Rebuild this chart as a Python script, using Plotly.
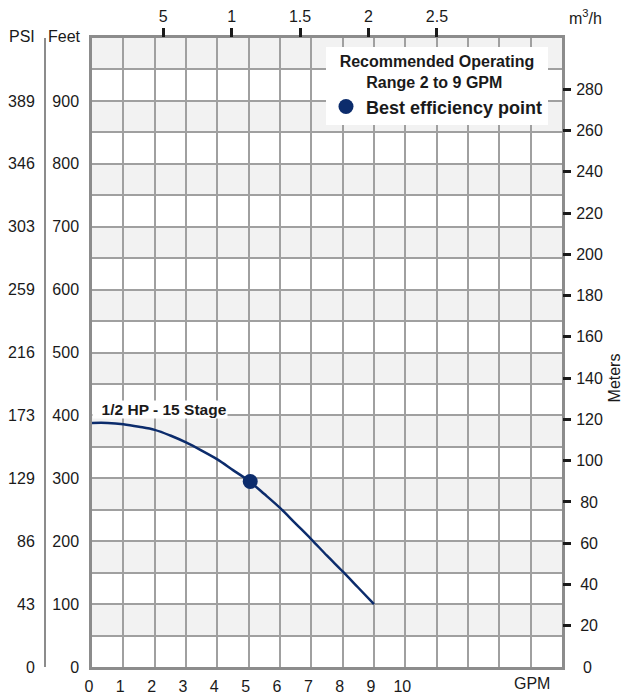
import plotly.graph_objects as go

# pump curve (GPM vs feet of head)
gpm = [0, 0.5, 1, 1.5, 2, 2.5, 3, 3.5, 4, 4.5, 5, 5.5, 6, 6.5, 7, 7.5, 8, 8.5, 9]
feet = [388, 388, 386, 382, 377, 368, 357, 344, 330, 313, 296, 275, 253, 228, 203, 177, 152, 126, 100]
bep_gpm = [5.05]
bep_feet = [295]

feet_ticks = [0, 100, 200, 300, 400, 500, 600, 700, 800, 900]
psi_labels = ['0', '43', '86', '129', '173', '216', '259', '303', '346', '389']
meter_ticks_3 = [100, 120, 140, 160, 180, 200, 220, 240, 260, 280]
meter_ticks_2 = [20, 40, 60, 80]
gpm_ticks = [0, 1, 2, 3, 4, 5, 6, 7, 8, 9, 10]
m3h_ticks = [0.5, 1, 1.5, 2, 2.5]
m3h_labels = ['5', '1', '1.5', '2', '2.5']

NAVY = '#0c2c6c'
GRID = '#a0a0a0'
BORDER = '#8c8c8c'
TXT = '#1a1a1a'
FONT = 'Liberation Sans'
FT_MAX = 1000
M_MAX = FT_MAX * 0.3048

fig = go.Figure()
fig.add_trace(go.Scatter(x=gpm, y=feet, mode='lines', line=dict(color=NAVY, width=2.5, shape='spline'),
                         showlegend=False, hoverinfo='skip'))
fig.add_trace(go.Scatter(x=bep_gpm, y=bep_feet, mode='markers', name='Best efficiency point',
                         marker=dict(color=NAVY, size=15)))

# alternating grey bands every 50 ft
shapes = []
for lo in range(50, FT_MAX, 100):
    shapes.append(dict(type='rect', xref='x', yref='y', x0=0, x1=15, y0=lo, y1=lo + 50,
                       fillcolor='#f2f2f2', line=dict(width=0), layer='below'))

tickfont = dict(family=FONT, size=16, color=TXT)
pad = '&nbsp;' * 6

fig.update_layout(
    width=623, height=696,
    margin=dict(l=45, r=61, t=38, b=29),
    paper_bgcolor='white', plot_bgcolor='white',
    font=dict(family=FONT, color=TXT),
    shapes=shapes,
    showlegend=True,
    legend=dict(x=0.9729, xanchor='right', y=0.9862, yanchor='top', bgcolor='white', borderwidth=0,
                title=dict(text='Recommended Operating<br>' + pad + 'Range 2 to 9 GPM', side='top center',
                           font=dict(family=FONT, size=16, weight=700, color=TXT)),
                font=dict(family=FONT, size=18, weight=700, color=TXT)),
    xaxis=dict(domain=[0.0909, 1], range=[0, 15], tickvals=gpm_ticks, ticks='', showgrid=True,
               gridcolor=GRID, gridwidth=1.5, minor=dict(dtick=1, showgrid=True, gridcolor=GRID, gridwidth=1.5),
               showline=True, mirror=True, linecolor=BORDER, linewidth=2.5, zeroline=False,
               tickfont=tickfont, ticklabelshift=-3, ticklabelstandoff=3, automargin=False),
    xaxis2=dict(overlaying='x', side='top', anchor='y', range=[-0.0195, 3.413], tickvals=m3h_ticks,
                ticktext=m3h_labels, ticks='outside', ticklen=9, tickwidth=2.5, tickcolor=TXT,
                showgrid=False, showline=False, zeroline=False, tickfont=tickfont, automargin=False),
    yaxis=dict(range=[0, FT_MAX], tickvals=feet_ticks, ticks='', showgrid=True, gridcolor=GRID,
               gridwidth=1.5, minor=dict(dtick=50, showgrid=True, gridcolor=GRID, gridwidth=1.5),
               showline=True, mirror=True, linecolor=BORDER, linewidth=2.5, zeroline=False,
               tickfont=tickfont, ticklabelstandoff=7, automargin=False),
    yaxis3=dict(overlaying='y', anchor='free', position=0, side='left', range=[0, FT_MAX],
                tickvals=feet_ticks, ticktext=psi_labels, ticks='', showgrid=False, zeroline=False,
                showline=True, linecolor=BORDER, linewidth=2, tickfont=tickfont,
                ticklabelstandoff=6, automargin=False),
    yaxis2=dict(overlaying='y', side='right', anchor='x', range=[0, M_MAX], tickvals=meter_ticks_3,
                ticks='outside', ticklen=8, tickwidth=2.5, tickcolor=TXT, showgrid=False,
                zeroline=False, showline=False, tickfont=tickfont, ticklabelstandoff=2, automargin=False),
    yaxis4=dict(overlaying='y', side='right', anchor='x', range=[0, M_MAX], tickvals=meter_ticks_2,
                ticks='outside', ticklen=8, tickwidth=2.5, tickcolor=TXT, showgrid=False,
                zeroline=False, showline=False, tickfont=tickfont, ticklabelstandoff=6, automargin=False),
    yaxis5=dict(overlaying='y', side='right', anchor='x', range=[0, M_MAX], tickvals=[0],
                ticks='', showgrid=False, zeroline=False, showline=False, tickfont=tickfont,
                ticklabelstandoff=20, automargin=False),
)

# empty traces so the extra axes get drawn
fig.add_trace(go.Scatter(x=[None], y=[None], yaxis='y3', showlegend=False))
fig.add_trace(go.Scatter(x=[None], y=[None], yaxis='y2', showlegend=False))
fig.add_trace(go.Scatter(x=[None], y=[None], yaxis='y4', showlegend=False))
fig.add_trace(go.Scatter(x=[None], y=[None], yaxis='y5', showlegend=False))
fig.add_trace(go.Scatter(x=[None], y=[None], xaxis='x2', showlegend=False))

annots = [
    dict(text='PSI', x=-0.0445, y=1.0016, xanchor='center'),
    dict(text='Feet', x=0.0735, y=1.0016, xanchor='right'),
    dict(text='m<sup>3</sup>/h', x=1.0445, y=1.0334, xanchor='center'),
    dict(text='GPM', x=0.9414, y=-0.0259, xanchor='center'),
    dict(text='Meters', x=1.1015, y=0.4595, xanchor='center', textangle=-90),
]
for a in annots:
    fig.add_annotation(xref='paper', yref='paper', yanchor='middle', showarrow=False,
                       font=dict(family=FONT, size=16, color=TXT), **a)

fig.add_annotation(x=0, y=410, xref='x', yref='y', xanchor='left', yanchor='middle', showarrow=False,
                   text='&nbsp;&nbsp;1/2 HP - 15 Stage', bgcolor='white', borderpad=0,
                   font=dict(family=FONT, size=15.5, weight=700, color=TXT))

fig.write_html("out.html", config={'displayModeBar': False},
               post_script="document.body.style.margin='0px';")
